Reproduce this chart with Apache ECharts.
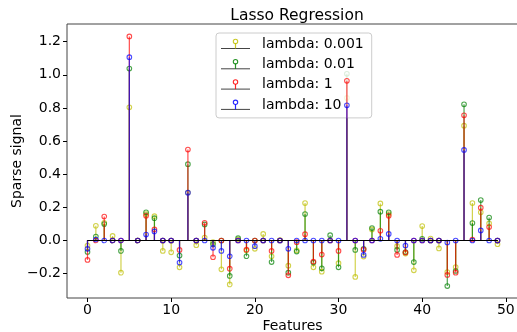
<!DOCTYPE html>
<html><head><meta charset="utf-8">
<script src="https://cdn.jsdelivr.net/npm/echarts@6/dist/echarts.min.js"></script>
<style>html,body{margin:0;padding:0;background:#fff}#c{width:517px;height:332px}</style>
</head><body><div id="c"></div>
<script>
const features = Array.from({length: 50}, (_, i) => i);
const seriesNames = ['lambda: 0.001', 'lambda: 0.01', 'lambda: 1', 'lambda: 10'];
const lambda0001 = [-0.03,0.089,0.107,0.028,-0.194,0.804,0,0.16,0.147,-0.063,-0.071,-0.162,0.29,-0.028,0.018,-0.01,-0.174,-0.265,0.006,-0.06,-0.05,0.04,-0.095,0.002,-0.152,-0.059,0.226,-0.162,-0.188,0,-0.137,0.861,-0.22,-0.097,0.067,0.224,0.16,-0.034,-0.079,-0.18,0.087,0.012,-0.048,-0.19,-0.16,0.693,0.226,0.17,0.103,-0.022];
const lambda001 = [-0.069,0.024,0.099,0,-0.063,1.038,0,0.17,0.135,0,0,-0.091,0.461,0,0.097,-0.022,0,-0.214,0.014,-0.095,0,0,-0.13,0,-0.194,-0.067,0.16,-0.133,-0.168,0.032,-0.162,1.006,-0.057,-0.05,0.075,0.174,0.17,-0.057,-0.07,-0.13,0.01,0,0,-0.275,-0.184,0.822,0.105,0.244,0.139,0];
const lambda1 = [-0.117,0,0.145,0,0,1.232,0,0.149,0.067,0,0,-0.057,0.549,0,0.107,-0.101,0,-0.17,0,-0.055,0,0,-0.063,0,-0.21,-0.01,0.038,-0.127,-0.085,0,-0.063,0.964,0,-0.055,0,0.059,0.149,-0.087,-0.073,0,0,0,0,-0.208,-0.194,0.756,0.006,0.198,0.081,0];
const lambda10 = [-0.05,0.006,0,0,0,1.107,0,0.036,0.055,0,0,-0.133,0.289,0,0,-0.044,-0.063,-0.095,0,0,-0.034,0,0,0,-0.05,0,0,0,0,0,0,0.816,0,-0.087,0,0.01,0.04,0,-0.03,0,0,0,0,-0.012,0,0.547,0,0.061,0,0];
const xTicks = [0, 10, 20, 30, 40, 50];
const xTickLabels = ['0', '10', '20', '30', '40', '50'];
const yTicks = [-0.2, 0, 0.2, 0.4, 0.6, 0.8, 1.0, 1.2];
const yTickLabels = ['\u22120.2', '0.0', '0.2', '0.4', '0.6', '0.8', '1.0', '1.2'];

const allValues = [lambda0001, lambda001, lambda1, lambda10];
const colors = ['#bfbf00', '#008000', '#ff0000', '#0000ff'];
const FONT = 'DejaVu Sans';

function labelFor(ticks, labels) {
  return function (v) {
    let best = 0;
    for (let i = 1; i < ticks.length; i++) {
      if (Math.abs(ticks[i] - Number(v)) < Math.abs(ticks[best] - Number(v))) best = i;
    }
    return labels[best];
  };
}

function stemRender(color) {
  return function (params, api) {
    const x = api.value(0), v = api.value(1);
    const p0 = api.coord([x, 0]), p1 = api.coord([x, v]);
    return {type: 'group', children: [
      {type: 'line', shape: {x1: p0[0], y1: p0[1], x2: p1[0], y2: p1[1]},
       style: {stroke: color, lineWidth: 1.2, opacity: 0.7}},
      {type: 'circle', shape: {cx: p1[0], cy: p1[1], r: 2.3},
       style: {stroke: color, fill: 'none', lineWidth: 1.1, opacity: 0.7}}
    ]};
  };
}

const series = [];
allValues.forEach((vals, k) => {
  series.push({
    name: seriesNames[k], type: 'custom', z: 2 + k,
    renderItem: stemRender(colors[k]),
    itemStyle: {color: colors[k]},
    data: features.map((f, i) => [f, vals[i]])
  });
  series.push({
    type: 'line', z: 2 + k, silent: true, symbol: 'none',
    lineStyle: {color: '#000', width: 1.2},
    data: [[features[0], 0], [features[features.length - 1], 0]]
  });
});

// legend icons (drawn as graphics over the legend)
const legendTop = 33, rowH = 20.3, rowStart = legendTop + 4 + 7;
const graphics = [];
seriesNames.forEach((n, k) => {
  const cy = rowStart + k * rowH;
  graphics.push({type: 'line', z: 100, shape: {x1: 221, y1: cy + 4.5, x2: 250, y2: cy + 4.5}, style: {stroke: '#444', lineWidth: 1}});
  graphics.push({type: 'line', z: 100, shape: {x1: 235.5, y1: cy + 4.5, x2: 235.5, y2: cy - 0.5}, style: {stroke: colors[k], lineWidth: 1.2, opacity: 0.85}});
  graphics.push({type: 'circle', z: 100, shape: {cx: 235.5, cy: cy - 2.6, r: 2.2}, style: {stroke: colors[k], fill: 'none', lineWidth: 1.1, opacity: 0.85}});
});

const chart = echarts.init(document.getElementById('c'), null, {renderer: 'canvas'});
chart.setOption({
  animation: false,
  backgroundColor: '#fff',
  title: {text: 'Lasso Regression', left: 292, top: 3, textAlign: 'center',
    textStyle: {fontFamily: FONT, fontSize: 15.5, fontWeight: 'normal', color: '#000'}},
  grid: {left: 67, top: 24, right: -1, bottom: 34, show: true, borderColor: '#444', borderWidth: 1,
    containLabel: false, outerBoundsMode: 'none'},
  legend: {
    orient: 'vertical', left: 216, top: legendTop, padding: [4, 8, 6, 5],
    itemWidth: 36, itemHeight: 14, itemGap: 6.3,
    backgroundColor: 'rgba(255,255,255,0.8)', borderColor: '#ccc', borderWidth: 1, borderRadius: 3,
    textStyle: {fontFamily: FONT, fontSize: 14, color: '#000'},
    data: seriesNames.map(n => ({name: n, icon: 'rect', itemStyle: {color: 'rgba(0,0,0,0)', borderWidth: 0}})),
    selectedMode: false
  },
  xAxis: {
    type: 'value', min: -2.45, max: 51.45,
    name: 'Features', nameLocation: 'middle', nameGap: 21, nameMoveOverlap: false,
    nameTextStyle: {fontFamily: FONT, fontSize: 14, color: '#000'},
    axisLine: {show: false, onZero: false},
    splitLine: {show: false},
    axisTick: {show: true, length: 4, lineStyle: {color: '#000'}, customValues: xTicks},
    axisLabel: {fontFamily: FONT, fontSize: 14, color: '#000', margin: 5, customValues: xTicks,
      formatter: labelFor(xTicks, xTickLabels)}
  },
  yAxis: {
    type: 'value', min: -0.347, max: 1.307,
    name: 'Sparse signal', nameLocation: 'middle', nameGap: 43, nameMoveOverlap: false,
    nameTextStyle: {fontFamily: FONT, fontSize: 14, color: '#000'},
    axisLine: {show: false, onZero: false},
    splitLine: {show: false},
    axisTick: {show: true, length: 4, lineStyle: {color: '#000'}, customValues: yTicks},
    axisLabel: {fontFamily: FONT, fontSize: 14, color: '#000', margin: 6, customValues: yTicks,
      formatter: labelFor(yTicks, yTickLabels)}
  },
  graphic: graphics,
  series: series
});
</script></body></html>
